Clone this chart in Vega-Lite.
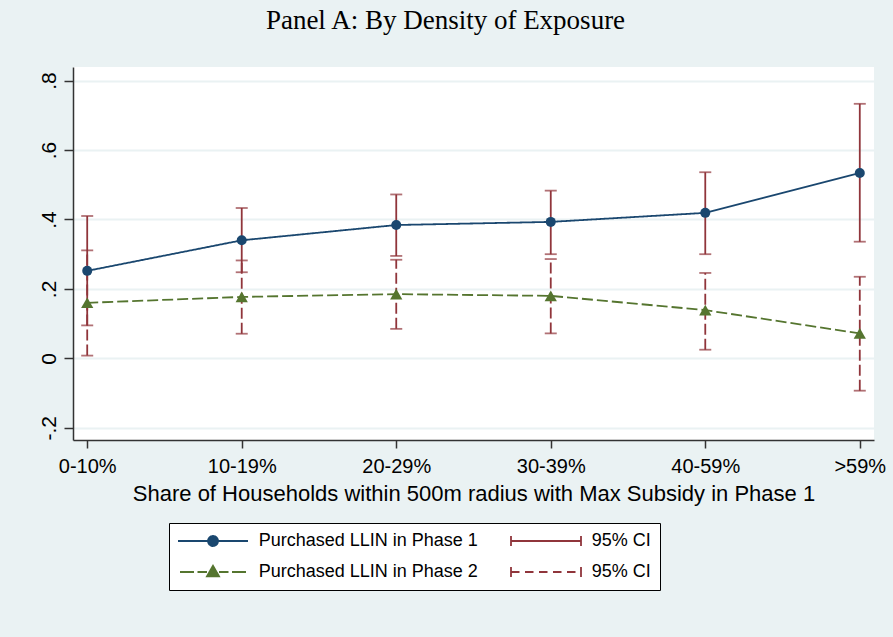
{
  "$schema": "https://vega.github.io/schema/vega-lite/v6.json",
  "width": 801,
  "height": 373,
  "autosize": {"type": "none"},
  "padding": {"left": 73, "top": 67, "right": 19, "bottom": 197},
  "background": "#EAF2F3",
  "config": {
    "font": "Liberation Sans",
    "view": {"fill": "white", "stroke": null}
  },
  "title": {
    "text": "Panel A: By Density of Exposure",
    "font": "Liberation Serif",
    "fontSize": 27,
    "fontWeight": "normal",
    "color": "black",
    "baseline": "alphabetic",
    "offset": 11,
    "dx": -28,
    "anchor": "middle"
  },
  "data": {
    "values": [
      {"cat": "0-10%", "series": "Purchased LLIN in Phase 1", "value": 0.252, "lo": 0.095, "hi": 0.410},
      {"cat": "10-19%", "series": "Purchased LLIN in Phase 1", "value": 0.340, "lo": 0.248, "hi": 0.433},
      {"cat": "20-29%", "series": "Purchased LLIN in Phase 1", "value": 0.384, "lo": 0.295, "hi": 0.472},
      {"cat": "30-39%", "series": "Purchased LLIN in Phase 1", "value": 0.393, "lo": 0.300, "hi": 0.483},
      {"cat": "40-59%", "series": "Purchased LLIN in Phase 1", "value": 0.419, "lo": 0.300, "hi": 0.536},
      {"cat": ">59%", "series": "Purchased LLIN in Phase 1", "value": 0.534, "lo": 0.336, "hi": 0.733},
      {"cat": "0-10%", "series": "Purchased LLIN in Phase 2", "value": 0.160, "lo": 0.008, "hi": 0.311},
      {"cat": "10-19%", "series": "Purchased LLIN in Phase 2", "value": 0.177, "lo": 0.071, "hi": 0.282},
      {"cat": "20-29%", "series": "Purchased LLIN in Phase 2", "value": 0.185, "lo": 0.085, "hi": 0.284},
      {"cat": "30-39%", "series": "Purchased LLIN in Phase 2", "value": 0.180, "lo": 0.072, "hi": 0.286},
      {"cat": "40-59%", "series": "Purchased LLIN in Phase 2", "value": 0.139, "lo": 0.025, "hi": 0.246},
      {"cat": ">59%", "series": "Purchased LLIN in Phase 2", "value": 0.072, "lo": -0.093, "hi": 0.235}
    ]
  },
  "encoding": {
    "x": {
      "field": "cat",
      "type": "ordinal",
      "sort": ["0-10%", "10-19%", "20-29%", "30-39%", "40-59%", ">59%"],
      "scale": {"type": "point", "padding": 0.092},
      "axis": {
        "title": "Share of Households within 500m radius with Max Subsidy in Phase 1",
        "titleFontSize": 22,
        "titleFontWeight": "normal",
        "titleColor": "black",
        "titleBaseline": "alphabetic",
        "titleY": 60.7,
        "labelAngle": 0,
        "labelFontSize": 20,
        "labelColor": "black",
        "labelPadding": 8,
        "tickSize": 8,
        "tickWidth": 1.5,
        "tickColor": "#333333",
        "domainColor": "#333333",
        "domainWidth": 1.5,
        "grid": false
      }
    }
  },
  "layer": [
    {
      "mark": {"type": "rule", "color": "#90353B", "strokeWidth": 1.8},
      "encoding": {
        "y": {
          "field": "lo",
          "type": "quantitative",
          "scale": {"domain": [-0.235, 0.839], "nice": false, "zero": false},
          "axis": {
            "title": null,
            "values": [-0.2, 0, 0.2, 0.4, 0.6, 0.8],
            "labelExpr": "datum.value == 0 ? '0' : (datum.value < 0 ? '-' : '') + replace(format(abs(datum.value), '.1f'), '0.', '.')",
            "labelAngle": 270,
            "labelAlign": "center",
            "labelBaseline": "bottom",
            "labelFontSize": 21,
            "labelColor": "black",
            "labelPadding": 5,
            "tickSize": 9,
            "tickWidth": 1.5,
            "tickColor": "#333333",
            "domainColor": "#333333",
            "domainWidth": 1.5,
            "grid": true,
            "gridColor": "#EAF2F3",
            "gridWidth": 2
          }
        },
        "y2": {"field": "hi"},
        "strokeDash": {
          "field": "series",
          "type": "nominal",
          "scale": {"domain": ["Purchased LLIN in Phase 1", "Purchased LLIN in Phase 2"], "range": [[1, 0], [11, 4]]},
          "legend": null
        }
      }
    },
    {
      "mark": {"type": "tick", "color": "#90353B", "size": 12, "thickness": 1.8},
      "encoding": {"y": {"field": "lo", "type": "quantitative"}}
    },
    {
      "mark": {"type": "tick", "color": "#90353B", "size": 12, "thickness": 1.8},
      "encoding": {"y": {"field": "hi", "type": "quantitative"}}
    },
    {
      "mark": {"type": "line", "strokeWidth": 1.8},
      "encoding": {
        "y": {"field": "value", "type": "quantitative"},
        "color": {
          "field": "series",
          "type": "nominal",
          "scale": {
            "domain": ["Purchased LLIN in Phase 1", "Purchased LLIN in Phase 2", "95% CI (Phase 1)", "95% CI (Phase 2)"],
            "range": ["#1A476F", "#55752F", "#90353B", "#90353B"]
          },
          "legend": {
            "orient": "none",
            "legendX": 96,
            "legendY": 456,
            "columns": 2,
            "title": null,
            "labelExpr": "indexof(datum.label, '95% CI') === 0 ? '95% CI' : datum.label",
            "labelFont": "Liberation Sans",
            "labelFontSize": 18,
            "labelColor": "black",
            "labelLimit": 0,
            "symbolSize": 100,
            "symbolStrokeWidth": 1.8,
            "symbolOffset": 26,
            "labelOffset": 36.7,
            "columnPadding": 29,
            "rowPadding": 12,
            "padding": 9,
            "strokeColor": "black",
            "fillColor": "white",
            "encode": {
              "symbols": {
                "update": {
                  "shape": {"signal": "datum.value === 'Purchased LLIN in Phase 1' ? 'M-7,0H7M1,0A1,1 0 1,1 -1,0A1,1 0 1,1 1,0Z' : datum.value === 'Purchased LLIN in Phase 2' ? 'M-6.6,0H-3.8M-3.1,0H-1.2M1.2,0H3.1M3.8,0H6.6M0,-1.25L1.2,0.85L-1.2,0.85Z' : datum.value === '95% CI (Phase 1)' ? 'M-7,-1V1M-7,0H7M7,-1V1' : 'M-7,-1V1M-7,0H-5.3M-4.2,0H-2.5M-1.4,0H0.3M1.4,0H3.1M4.2,0H5.9M7,-1V1'"},
                  "fill": {"signal": "datum.value === 'Purchased LLIN in Phase 1' ? '#1A476F' : datum.value === 'Purchased LLIN in Phase 2' ? '#55752F' : 'transparent'"},
                  "strokeDash": {"value": [1, 0]},
                  "opacity": {"value": 1}
                }
              }
            }
          }
        },
        "strokeDash": {"field": "series", "type": "nominal", "legend": null}
      }
    },
    {
      "mark": {"type": "point", "filled": true, "opacity": 1},
      "encoding": {
        "y": {"field": "value", "type": "quantitative"},
        "color": {"field": "series", "type": "nominal"},
        "shape": {
          "field": "series",
          "type": "nominal",
          "scale": {"domain": ["Purchased LLIN in Phase 1", "Purchased LLIN in Phase 2"], "range": ["circle", "triangle-up"]},
          "legend": null
        },
        "size": {
          "field": "series",
          "type": "ordinal",
          "scale": {"domain": ["Purchased LLIN in Phase 1", "Purchased LLIN in Phase 2"], "range": [100, 150]},
          "legend": null
        }
      }
    }
  ]
}
